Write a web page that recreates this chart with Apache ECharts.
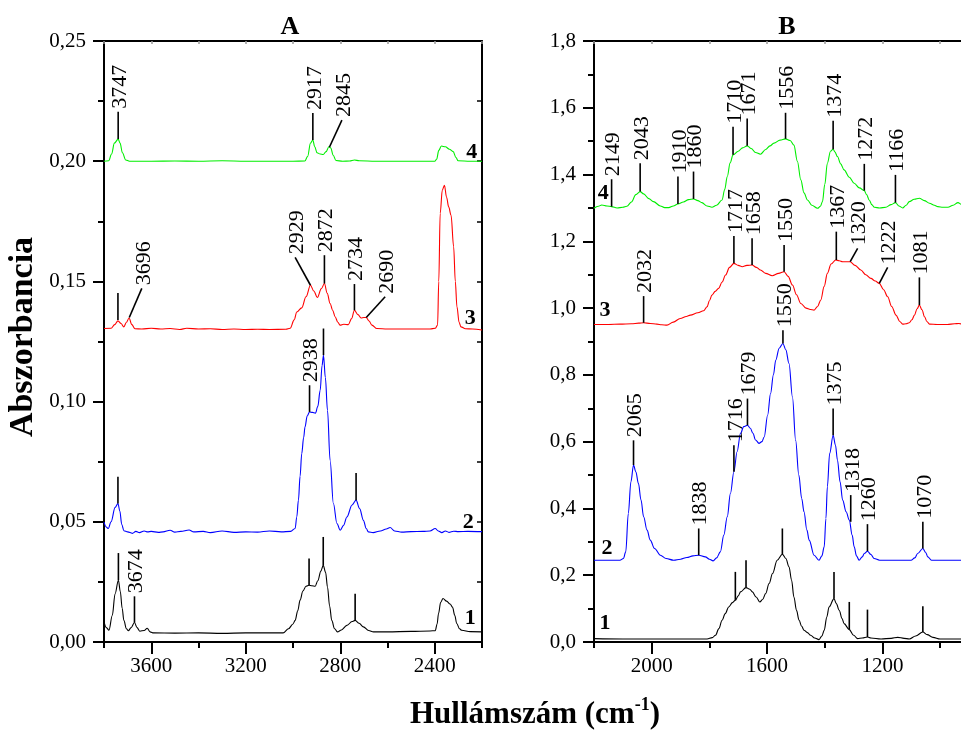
<!DOCTYPE html>
<html>
<head>
<meta charset="utf-8">
<script src="https://cdn.jsdelivr.net/npm/echarts/dist/echarts.min.js"></script>
<style>
html,body{margin:0;padding:0;background:#fff;}
#chart{width:961px;height:744px;}
</style>
</head>
<body>
<div id="chart"></div>
<script>
// ---------- DATA ----------
// Panel A (3800-2200 cm-1): [wavenumber, absorbance]
const A1 = [[3800,0.0085],[3790,0.006],[3779,0.0049],[3765,0.011],[3753,0.0201],[3739,0.0257],[3731,0.021],[3723,0.014],[3716,0.0090],[3705,0.0055],[3697,0.0047],[3685,0.0060],[3671,0.0081],[3660,0.0060],[3648,0.0045],[3630,0.0048],[3617,0.0057],[3605,0.0042],[3590,0.0038],[3500,0.0037],[3400,0.0038],[3300,0.0036],[3200,0.0038],[3100,0.0038],[3042,0.0038],[3019,0.0055],[3000,0.0075],[2991,0.0090],[2980,0.0130],[2970,0.0174],[2958,0.0212],[2945,0.0232],[2932,0.0236],[2920,0.0234],[2906,0.0232],[2895,0.0255],[2882,0.0295],[2872,0.0319],[2862,0.0290],[2854,0.0229],[2845,0.0150],[2836,0.0090],[2824,0.0055],[2812,0.0042],[2795,0.0050],[2772,0.0069],[2750,0.0085],[2737,0.0090],[2720,0.0078],[2702,0.0063],[2680,0.0048],[2659,0.0042],[2600,0.0042],[2500,0.0044],[2420,0.0046],[2398,0.0047],[2390,0.0075],[2384,0.0118],[2375,0.0165],[2365,0.0181],[2350,0.0170],[2335,0.0158],[2325,0.0145],[2315,0.0110],[2307,0.0077],[2295,0.0055],[2286,0.0049],[2250,0.0043],[2200,0.0042]];
const A2 = [[3800,0.0499],[3790,0.0478],[3782,0.0472],[3770,0.0500],[3753,0.0560],[3741,0.0576],[3733,0.0545],[3725,0.0490],[3716,0.0463],[3700,0.0458],[3680,0.0452],[3665,0.0460],[3650,0.0455],[3630,0.0462],[3615,0.0458],[3600,0.0460],[3570,0.0456],[3550,0.0458],[3520,0.0465],[3500,0.0457],[3475,0.0460],[3440,0.0466],[3420,0.0458],[3380,0.0460],[3350,0.0455],[3300,0.0462],[3250,0.0456],[3200,0.0458],[3150,0.0457],[3100,0.0462],[3050,0.0458],[3010,0.0460],[2991,0.0472],[2984,0.0520],[2977,0.0590],[2970,0.0690],[2963,0.0784],[2955,0.0850],[2949,0.0895],[2940,0.0940],[2930,0.0957],[2918,0.0955],[2905,0.0952],[2895,0.0980],[2885,0.1047],[2877,0.1150],[2871,0.1193],[2863,0.1100],[2854,0.0964],[2843,0.0756],[2829,0.0576],[2814,0.0493],[2800,0.0465],[2786,0.0485],[2772,0.0520],[2750,0.0570],[2733,0.0590],[2718,0.0555],[2702,0.0506],[2690,0.0472],[2681,0.0458],[2661,0.0455],[2630,0.0462],[2605,0.0470],[2589,0.0476],[2570,0.0462],[2540,0.0457],[2500,0.0459],[2450,0.0460],[2420,0.0462],[2398,0.0472],[2385,0.0462],[2370,0.0455],[2355,0.0462],[2340,0.0456],[2320,0.0461],[2300,0.0459],[2260,0.0460],[2200,0.0459]];
const A3 = [[3800,0.1304],[3770,0.1305],[3755,0.1320],[3741,0.1336],[3728,0.1325],[3716,0.1311],[3705,0.1330],[3694,0.1348],[3682,0.1320],[3669,0.1303],[3640,0.1302],[3600,0.1305],[3560,0.1302],[3520,0.1304],[3480,0.1300],[3450,0.1305],[3400,0.1302],[3350,0.1303],[3300,0.1300],[3250,0.1302],[3200,0.1300],[3150,0.1301],[3100,0.1300],[3030,0.1301],[3012,0.1305],[2995,0.1340],[2984,0.1373],[2963,0.1390],[2945,0.1436],[2926,0.1484],[2912,0.1460],[2897,0.1433],[2880,0.1470],[2867,0.1491],[2855,0.1450],[2843,0.1408],[2832,0.1380],[2822,0.1353],[2810,0.1330],[2801,0.1318],[2785,0.1322],[2766,0.1320],[2752,0.1345],[2740,0.1380],[2725,0.1362],[2712,0.1348],[2700,0.1350],[2690,0.1350],[2678,0.1335],[2666,0.1318],[2645,0.1304],[2600,0.1302],[2500,0.1302],[2420,0.1302],[2398,0.1305],[2388,0.1318],[2383,0.1500],[2377,0.1783],[2368,0.1880],[2359,0.1900],[2350,0.1850],[2341,0.1810],[2331,0.1775],[2320,0.1644],[2313,0.1500],[2306,0.1394],[2297,0.1330],[2289,0.1311],[2270,0.1303],[2240,0.1302],[2200,0.1298]];
const A4 = [[3800,0.2000],[3780,0.2002],[3768,0.2030],[3756,0.2075],[3740,0.2092],[3732,0.2075],[3722,0.2035],[3708,0.2005],[3692,0.2000],[3600,0.2000],[3500,0.2001],[3400,0.2000],[3300,0.2002],[3200,0.2000],[3100,0.2000],[3000,0.2000],[2950,0.2001],[2938,0.2020],[2926,0.2075],[2916,0.2088],[2908,0.2060],[2898,0.2035],[2885,0.2030],[2872,0.2028],[2860,0.2040],[2848,0.2060],[2840,0.2055],[2830,0.2025],[2818,0.2003],[2790,0.2000],[2760,0.2001],[2740,0.2005],[2720,0.2002],[2650,0.2000],[2500,0.2000],[2400,0.2000],[2392,0.2008],[2383,0.2045],[2372,0.2063],[2355,0.2060],[2338,0.2050],[2322,0.2040],[2310,0.2015],[2301,0.2002],[2250,0.2000],[2200,0.2000]];

// Panel B (2200-900 cm-1)
const B1 = [[2200,0.010],[2100,0.009],[2000,0.009],[1900,0.009],[1808,0.009],[1790,0.013],[1779,0.020],[1767,0.040],[1756,0.065],[1745,0.085],[1733,0.105],[1720,0.118],[1710,0.125],[1700,0.138],[1692,0.150],[1673,0.163],[1660,0.158],[1651,0.150],[1638,0.135],[1625,0.120],[1615,0.128],[1605,0.145],[1593,0.175],[1581,0.205],[1565,0.245],[1547,0.263],[1535,0.250],[1524,0.225],[1515,0.185],[1507,0.135],[1498,0.095],[1489,0.065],[1480,0.047],[1472,0.035],[1460,0.028],[1449,0.020],[1435,0.012],[1420,0.007],[1410,0.018],[1402,0.035],[1393,0.075],[1385,0.105],[1368,0.130],[1360,0.115],[1350,0.095],[1340,0.070],[1333,0.055],[1315,0.037],[1300,0.020],[1286,0.010],[1270,0.012],[1252,0.015],[1240,0.012],[1205,0.009],[1170,0.011],[1147,0.014],[1125,0.011],[1107,0.009],[1085,0.018],[1060,0.030],[1045,0.022],[1025,0.014],[1000,0.009],[950,0.009],[900,0.009]];
const B2 = [[2200,0.245],[2150,0.245],[2110,0.245],[2098,0.250],[2090,0.270],[2081,0.385],[2072,0.480],[2063,0.530],[2055,0.510],[2046,0.475],[2037,0.425],[2028,0.375],[2016,0.335],[2005,0.305],[1990,0.280],[1970,0.260],[1950,0.250],[1924,0.245],[1900,0.248],[1878,0.253],[1857,0.258],[1837,0.260],[1814,0.255],[1800,0.248],[1787,0.243],[1775,0.252],[1762,0.270],[1750,0.320],[1738,0.375],[1727,0.445],[1715,0.510],[1704,0.570],[1692,0.625],[1681,0.645],[1668,0.649],[1658,0.640],[1649,0.625],[1640,0.605],[1628,0.595],[1618,0.600],[1610,0.614],[1598,0.680],[1588,0.744],[1578,0.800],[1570,0.844],[1558,0.880],[1545,0.894],[1535,0.875],[1524,0.834],[1512,0.734],[1501,0.604],[1490,0.500],[1480,0.430],[1472,0.390],[1462,0.335],[1454,0.305],[1437,0.260],[1420,0.245],[1410,0.258],[1402,0.285],[1396,0.370],[1391,0.465],[1383,0.565],[1371,0.619],[1363,0.590],[1356,0.545],[1347,0.480],[1338,0.425],[1326,0.390],[1315,0.365],[1305,0.320],[1298,0.285],[1290,0.258],[1281,0.245],[1270,0.255],[1263,0.265],[1252,0.272],[1240,0.262],[1229,0.250],[1210,0.245],[1150,0.245],[1101,0.245],[1088,0.252],[1078,0.265],[1060,0.280],[1050,0.268],[1043,0.255],[1030,0.245],[950,0.245],[900,0.245]];
const B3 = [[2200,0.951],[2150,0.951],[2110,0.952],[2070,0.953],[2045,0.955],[2028,0.956],[2005,0.954],[1982,0.952],[1965,0.950],[1947,0.949],[1925,0.958],[1901,0.969],[1880,0.975],[1866,0.979],[1840,0.986],[1820,0.992],[1808,1.004],[1800,1.022],[1791,1.039],[1780,1.050],[1768,1.059],[1756,1.078],[1744,1.099],[1730,1.122],[1715,1.134],[1700,1.128],[1686,1.124],[1670,1.128],[1652,1.129],[1637,1.122],[1623,1.114],[1605,1.104],[1582,1.097],[1560,1.104],[1541,1.109],[1527,1.095],[1512,1.069],[1498,1.040],[1483,1.014],[1465,1.000],[1450,0.996],[1437,0.994],[1425,1.005],[1414,1.024],[1402,1.065],[1391,1.104],[1378,1.132],[1362,1.144],[1350,1.142],[1338,1.139],[1325,1.139],[1312,1.139],[1295,1.128],[1275,1.114],[1258,1.100],[1240,1.089],[1225,1.081],[1211,1.074],[1196,1.055],[1182,1.034],[1168,1.005],[1153,0.979],[1140,0.960],[1130,0.952],[1118,0.953],[1107,0.956],[1098,0.965],[1089,0.979],[1080,0.998],[1072,1.009],[1063,0.995],[1054,0.974],[1046,0.960],[1037,0.952],[1010,0.951],[975,0.951],[950,0.953],[935,0.954],[920,0.951],[900,0.951]];
const B4 = [[2200,1.299],[2185,1.305],[2173,1.309],[2155,1.306],[2139,1.304],[2120,1.300],[2100,1.302],[2086,1.305],[2070,1.318],[2055,1.340],[2040,1.349],[2028,1.342],[2010,1.328],[1994,1.319],[1970,1.306],[1955,1.301],[1941,1.301],[1925,1.306],[1909,1.312],[1890,1.318],[1872,1.325],[1855,1.327],[1840,1.322],[1826,1.316],[1808,1.306],[1791,1.302],[1775,1.308],[1756,1.324],[1747,1.355],[1738,1.394],[1728,1.435],[1718,1.459],[1700,1.470],[1685,1.480],[1669,1.486],[1655,1.478],[1640,1.466],[1623,1.461],[1605,1.475],[1590,1.486],[1576,1.494],[1555,1.503],[1536,1.507],[1520,1.502],[1507,1.488],[1495,1.440],[1483,1.384],[1472,1.345],[1460,1.324],[1445,1.308],[1425,1.299],[1415,1.305],[1408,1.319],[1400,1.370],[1391,1.434],[1380,1.470],[1371,1.476],[1365,1.468],[1356,1.454],[1345,1.432],[1333,1.414],[1315,1.392],[1298,1.374],[1280,1.360],[1263,1.352],[1255,1.340],[1246,1.324],[1237,1.310],[1228,1.302],[1210,1.300],[1188,1.302],[1170,1.310],[1155,1.316],[1143,1.306],[1130,1.300],[1118,1.308],[1107,1.319],[1090,1.326],[1072,1.329],[1055,1.322],[1037,1.314],[1020,1.308],[1008,1.304],[990,1.302],[973,1.302],[955,1.308],[938,1.316],[927,1.311],[910,1.304],[900,1.303]];

// Peak markers: [x at peak, y at peak, x at end, y at end, label]
const marksA = [
  [3740,0.2092,3740,0.2206,'3747'],[2916,0.2088,2916,0.2201,'2917'],[2846,0.2058,2793,0.2171,'2845'],
  [3741,0.1339,3741,0.1452,''],[3693,0.1350,3640,0.1471,'3696'],[2926,0.1484,2991,0.1600,'2929'],[2867,0.1491,2867,0.1609,'2872'],[2740,0.1380,2740,0.1489,'2734'],[2690,0.1350,2610,0.1436,'2690'],
  [3741,0.0576,3741,0.0687,''],[2930,0.0957,2930,0.1068,'2938'],[2871,0.1193,2871,0.1304,''],[2733,0.0590,2733,0.0703,''],
  [3739,0.0257,3739,0.0370,''],[3671,0.0081,3671,0.0190,'3674'],[2932,0.0236,2932,0.0347,''],[2872,0.0319,2872,0.0437,''],[2737,0.0090,2737,0.0201,'']
];
const marksB = [
  [2139,1.304,2139,1.386,'2149'],[2040,1.349,2040,1.434,'2043'],[1909,1.312,1909,1.394,'1910'],[1855,1.327,1855,1.409,'1860'],[1718,1.459,1718,1.543,'1710'],[1669,1.486,1669,1.568,'1671'],[1536,1.507,1536,1.585,'1556'],[1371,1.476,1371,1.561,'1374'],[1263,1.352,1263,1.432,'1272'],[1155,1.316,1155,1.399,'1166'],
  [2028,0.956,2028,1.036,'2032'],[1715,1.134,1715,1.216,'1717'],[1652,1.129,1652,1.209,'1658'],[1541,1.109,1541,1.189,'1550'],[1360,1.144,1360,1.229,'1367'],[1312,1.139,1286,1.179,'1320'],[1211,1.074,1182,1.122,'1222'],[1072,1.009,1072,1.092,'1081'],
  [2063,0.530,2063,0.604,'2065'],[1837,0.260,1837,0.340,'1838'],[1715,0.510,1715,0.589,'1716'],[1668,0.649,1668,0.729,'1679'],[1545,0.894,1545,0.934,'1550'],[1371,0.619,1371,0.699,'1375'],[1310,0.360,1310,0.440,'1318'],[1252,0.272,1252,0.353,'1260'],[1060,0.280,1060,0.360,'1070'],
  [1710,0.125,1710,0.210,''],[1673,0.163,1673,0.245,''],[1547,0.263,1547,0.340,''],[1368,0.130,1368,0.210,''],[1315,0.037,1315,0.120,''],[1252,0.015,1252,0.097,''],[1060,0.030,1060,0.107,'']
];
// Spectrum numbers: [x, y, text]
const curveNamesA = [[2243,0.2035,'4'],[2250,0.1348,'3'],[2258,0.0499,'2'],[2250,0.0099,'1']];
const curveNamesB = [[2168,1.344,'4'],[2162,0.992,'3'],[2155,0.281,'2'],[2162,0.056,'1']];

// Axis ticks
const aLabelTicks = [3600,3200,2800,2400];
const aShortTicks = [3800,3400,3000,2600,2200];
const aTopTicks = [3800,3600,3400,3200,3000,2800,2600,2400,2200];
const bLabelTicks = [2000,1600,1200];
const bShortTicks = [2200,1800,1400,1000];
const bTopTicks = [2200,2000,1800,1600,1400,1200,1000];

// ---------- CHART ----------
const FONT = "'Liberation Serif','Times New Roman',serif";
const chart = echarts.init(document.getElementById('chart'), null, {renderer:'canvas'});

function markRender(list) {
  return function (params, api) {
    const d = list[params.dataIndex];
    const p1 = api.coord([d[0], d[1]]);
    const p2 = api.coord([d[2], d[3]]);
    const children = [{type:'line', shape:{x1:p1[0], y1:p1[1], x2:p2[0], y2:p2[1]}, style:{stroke:'#000', lineWidth:1.6}}];
    if (d[4]) {
      children.push({type:'text', x:p2[0] + 2, y:p2[1] - 3, rotation:Math.PI/2,
        style:{text:d[4], fontFamily:FONT, fontSize:22, fill:'#000', align:'left', verticalAlign:'middle'}});
    }
    return {type:'group', children};
  };
}
function nameRender(list) {
  return function (params, api) {
    const d = list[params.dataIndex];
    const p = api.coord([d[0], d[1]]);
    return {type:'text', x:p[0], y:p[1], style:{text:d[2], fontFamily:FONT, fontSize:22, fontWeight:'bold', fill:'#000', align:'center', verticalAlign:'middle'}};
  };
}

const tickLabel = {color:'#000', fontFamily:FONT, fontSize:21};
function bottomAxis(grid, min, max, labelTicks) {
  return {type:'value', gridIndex:grid, min, max, inverse:true, position:'bottom',
    axisLine:{show:true, onZero:false, lineStyle:{color:'#000', width:2}},
    axisTick:{show:true, inside:false, length:12, customValues:labelTicks, lineStyle:{color:'#000', width:2}},
    axisLabel:Object.assign({show:true, margin:14, customValues:labelTicks, formatter:v => String(v)}, tickLabel),
    splitLine:{show:false}};
}
function shortAxis(grid, min, max, ticks) {
  return {type:'value', gridIndex:grid, min, max, inverse:true, position:'bottom',
    axisLine:{show:false, onZero:false},
    axisTick:{show:true, inside:false, length:6, customValues:ticks, lineStyle:{color:'#000', width:2}},
    axisLabel:{show:false}, splitLine:{show:false}};
}
function topAxis(grid, min, max, ticks) {
  return {type:'value', gridIndex:grid, min, max, inverse:true, position:'top',
    axisLine:{show:true, onZero:false, lineStyle:{color:'#000', width:2}},
    axisTick:{show:true, inside:true, length:3, customValues:ticks, lineStyle:{color:'#999', width:1.5}},
    axisLabel:{show:false}, splitLine:{show:false}};
}
function leftAxis(grid, max, interval, digits) {
  return {type:'value', gridIndex:grid, min:0, max, interval, position:'left',
    axisLine:{show:true, onZero:false, lineStyle:{color:'#000', width:2}},
    axisTick:{show:true, inside:false, length:11, lineStyle:{color:'#000', width:2}},
    minorTick:{show:true, splitNumber:2, length:6, lineStyle:{color:'#000', width:2}},
    axisLabel:Object.assign({show:true, margin:18, formatter:v => v.toFixed(digits).replace('.', ',')}, tickLabel),
    splitLine:{show:false}, minorSplitLine:{show:false}};
}
function rightAxis(grid, max, interval) {
  return {type:'value', gridIndex:grid, min:0, max, interval, position:'right',
    axisLine:{show:true, onZero:false, lineStyle:{color:'#000', width:2}},
    axisTick:{show:true, inside:true, length:5, lineStyle:{color:'#000', width:1.5}},
    minorTick:{show:true, splitNumber:2, length:5, lineStyle:{color:'#000', width:1.5}},
    axisLabel:{show:false}, splitLine:{show:false}};
}
function spectrum(data, color, xi, yi) {
  return {type:'line', data, xAxisIndex:xi, yAxisIndex:yi, symbol:'none', showSymbol:false,
    smooth:0.35, smoothMonotone:'x', lineStyle:{color, width:1.1}, silent:true, z:2};
}
function markSeries(list, xi, yi) {
  return {type:'custom', xAxisIndex:xi, yAxisIndex:yi, renderItem:markRender(list),
    data:list.map(d => [d[0], d[1], d[2], d[3]]), encode:{x:[0,2], y:[1,3]}, silent:true, z:3};
}
function nameSeries(list, xi, yi) {
  return {type:'custom', xAxisIndex:xi, yAxisIndex:yi, renderItem:nameRender(list),
    data:list.map(d => [d[0], d[1]]), encode:{x:0, y:1}, silent:true, z:4};
}

const option = {
  animation:false,
  backgroundColor:'#fff',
  grid:[
    {left:104, top:41, right:479, bottom:102, containLabel:false, outerBoundsMode:'none'},
    {left:594, top:41, right:-8, bottom:102, containLabel:false, outerBoundsMode:'none'}
  ],
  xAxis:[
    bottomAxis(0, 2200, 3800, aLabelTicks),
    shortAxis(0, 2200, 3800, aShortTicks),
    topAxis(0, 2200, 3800, aTopTicks),
    bottomAxis(1, 900, 2200, bLabelTicks),
    shortAxis(1, 900, 2200, bShortTicks),
    topAxis(1, 900, 2200, bTopTicks)
  ],
  yAxis:[
    leftAxis(0, 0.25, 0.05, 2),
    rightAxis(0, 0.25, 0.05),
    leftAxis(1, 1.8, 0.2, 1)
  ],
  graphic:[
    {type:'text', x:290, y:27, style:{text:'A', fontFamily:FONT, fontSize:26, fontWeight:'bold', fill:'#000', align:'center', verticalAlign:'middle'}},
    {type:'text', x:787, y:27, style:{text:'B', fontFamily:FONT, fontSize:26, fontWeight:'bold', fill:'#000', align:'center', verticalAlign:'middle'}},
    {type:'text', x:23, y:337, rotation:Math.PI/2, style:{text:'Abszorbancia', fontFamily:FONT, fontSize:34, fontWeight:'bold', fill:'#000', align:'center', verticalAlign:'middle'}},
    {type:'text', x:535, y:715, style:{
      text:'{a|Hullámszám (cm}{s|-1}{a|)}', align:'center', verticalAlign:'middle',
      rich:{
        a:{fontFamily:FONT, fontSize:31, fontWeight:'bold', fill:'#000', lineHeight:38},
        s:{fontFamily:FONT, fontSize:18, fontWeight:'bold', fill:'#000', lineHeight:22, verticalAlign:'top'}
      }}}
  ],
  series:[
    spectrum(A1, '#000000', 0, 0),
    spectrum(A2, '#0000ff', 0, 0),
    spectrum(A3, '#ff0000', 0, 0),
    spectrum(A4, '#00ee00', 0, 0),
    markSeries(marksA, 0, 0),
    nameSeries(curveNamesA, 0, 0),
    spectrum(B1, '#000000', 3, 2),
    spectrum(B2, '#0000ff', 3, 2),
    spectrum(B3, '#ff0000', 3, 2),
    spectrum(B4, '#00ee00', 3, 2),
    markSeries(marksB, 3, 2),
    nameSeries(curveNamesB, 3, 2)
  ]
};
chart.setOption(option);
</script>
</body>
</html>
